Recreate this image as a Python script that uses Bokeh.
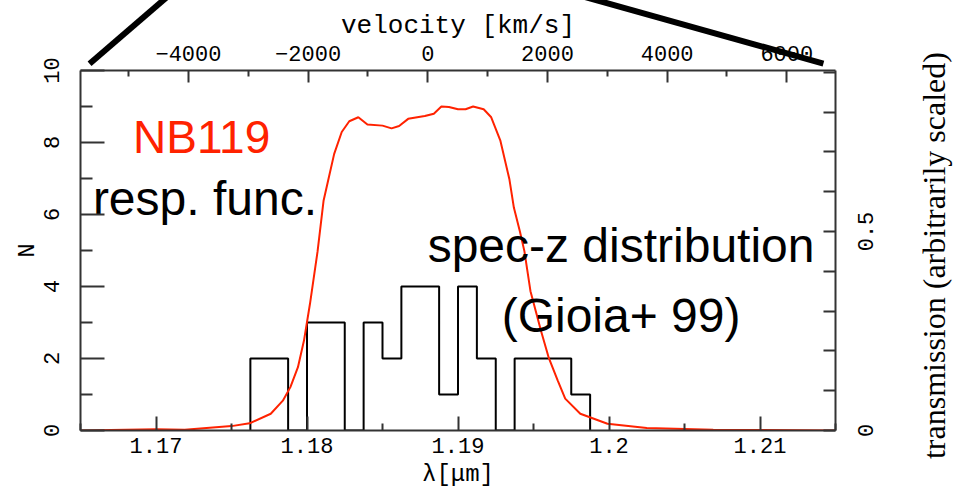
import math
from bokeh.plotting import figure
from bokeh.models import Range1d, LinearAxis, FixedTicker
from bokeh.core.properties import value
from bokeh.embed import file_html
from bokeh.resources import INLINE

# ---- data ----
# spec-z histogram (Gioia+ 99): bin edges in micron and counts per bin
bin_edges = [1.17625, 1.1775, 1.17875, 1.18, 1.18125, 1.1825, 1.18375, 1.185,
             1.18625, 1.1875, 1.18875, 1.19, 1.19125, 1.1925, 1.19375, 1.195,
             1.19625, 1.1975, 1.19875]
counts = [2, 2, 0, 3, 3, 0, 3, 2, 4, 4, 1, 4, 2, 0, 2, 2, 2, 1]

# NB119 response function (arbitrarily scaled transmission)
filter_wave = [1.165, 1.170, 1.1719, 1.1750, 1.1762, 1.1776, 1.1784, 1.1789,
               1.1794, 1.1798, 1.1802, 1.1807, 1.1811, 1.1814, 1.1818, 1.1823,
               1.1828, 1.1834, 1.1840, 1.1850, 1.1856, 1.1861, 1.1867, 1.1873,
               1.1878, 1.1884, 1.1889, 1.1894, 1.1900, 1.1905, 1.1910, 1.1917,
               1.1922, 1.1928, 1.1934, 1.1937, 1.1941, 1.1944, 1.1948, 1.1955,
               1.1960, 1.1966, 1.1971, 1.1981, 1.1999, 1.2025, 1.2069, 1.215]
filter_trans = [0.0, 0.003, 0.002, 0.011, 0.018, 0.042, 0.075, 0.109,
                0.159, 0.226, 0.319, 0.45, 0.578, 0.628, 0.695, 0.75,
                0.777, 0.787, 0.769, 0.766, 0.759, 0.765, 0.783, 0.787,
                0.79, 0.796, 0.814, 0.813, 0.807, 0.807, 0.814, 0.807,
                0.787, 0.729, 0.632, 0.56, 0.50, 0.45, 0.35, 0.25,
                0.184, 0.126, 0.08, 0.042, 0.017, 0.006, 0.002, 0.0]

# axes
lambda_range = [1.165, 1.215]
lambda_ticks = [1.17, 1.18, 1.19, 1.20, 1.21]
lambda_labels = ["1.17", "1.18", "1.19", "1.2", "1.21"]
lambda_minor = [1.165, 1.175, 1.185, 1.195, 1.205, 1.215]
n_range = [0, 10]
n_ticks = [0, 2, 4, 6, 8, 10]
n_minor = [1, 3, 5, 7, 9]
lambda0 = 1.188          # velocity zero point (micron)
c_kms = 299792.458
vel_ticks = [-4000, -2000, 0, 2000, 4000, 6000]
vel_labels = ["\u22124000", "\u22122000", "0", "2000", "4000", "6000"]
vel_minor = [-5000, -3000, -1000, 1000, 3000, 5000]
trans_range = [0, 0.9045]
trans_ticks = [0, 0.5]
trans_labels = ["0", "0.5"]
trans_minor = [0.1, 0.2, 0.3, 0.4, 0.6, 0.7, 0.8, 0.9]
trans_title = "transmission (arbitrarily scaled)"

# zoom-guide lines (from an upper panel), in data units
guide_x_start = [1.1656, 1.2142]
guide_y_start = [10.19, 10.19]
guide_x_end = [1.1720, 1.1945]
guide_y_end = [12.5, 12.5]

RED = "#ff2200"
AXC = "#333333"
TICK_FONT = "Liberation Mono"

p = figure(width=962, height=490, output_backend="svg", toolbar_location=None,
           x_range=Range1d(*lambda_range), y_range=Range1d(*n_range),
           x_axis_location=None, y_axis_location=None,
           min_border_left=80, min_border_right=127,
           min_border_top=70, min_border_bottom=60)
p.outline_line_color = None
p.xgrid.grid_line_color = None
p.ygrid.grid_line_color = None
p.background_fill_color = "white"
p.border_fill_color = "white"

v_lo = c_kms * (lambda_range[0] - lambda0) / lambda0
v_hi = c_kms * (lambda_range[1] - lambda0) / lambda0
p.extra_x_ranges = {"vel": Range1d(v_lo, v_hi)}
p.extra_y_ranges = {"trans": Range1d(*trans_range)}


def style(ax, tin, tmin):
    ax.axis_line_color = AXC
    ax.axis_line_width = 2
    ax.major_tick_line_color = AXC
    ax.minor_tick_line_color = AXC
    ax.major_tick_line_width = 2
    ax.minor_tick_line_width = 2
    ax.major_tick_in = tin
    ax.major_tick_out = 0
    ax.minor_tick_in = tmin
    ax.minor_tick_out = 0
    ax.major_label_text_font = TICK_FONT
    ax.major_label_text_font_size = "22px"
    ax.major_label_text_color = "black"
    ax.axis_label_text_font = TICK_FONT
    ax.axis_label_text_font_style = "normal"
    ax.axis_label_text_color = "black"


bottom = LinearAxis(ticker=FixedTicker(ticks=lambda_ticks, minor_ticks=lambda_minor),
                    major_label_overrides=dict(zip(lambda_ticks, lambda_labels)),
                    axis_label="\u03bb[\u03bcm]")
style(bottom, 14, 7)
bottom.major_label_standoff = 7
bottom.axis_label_standoff = 5
bottom.axis_label_text_font_size = "24px"
p.add_layout(bottom, "below")

top = LinearAxis(x_range_name="vel",
                 ticker=FixedTicker(ticks=vel_ticks, minor_ticks=vel_minor),
                 major_label_overrides=dict(zip(vel_ticks, vel_labels)),
                 axis_label="velocity [km/s]")
style(top, 12, 6)
top.major_label_standoff = 10
top.axis_label_standoff = 2
top.axis_label_text_font_size = "26px"
p.add_layout(top, "above")

left = LinearAxis(ticker=FixedTicker(ticks=n_ticks, minor_ticks=n_minor),
                  axis_label="N")
style(left, 24, 12)
left.major_label_orientation = "vertical"
left.major_label_standoff = 22
left.axis_label_standoff = 0
left.axis_label_text_font_size = "24px"
p.add_layout(left, "left")

# right axis: ticks from the axis; its upward-reading texts drawn as text glyphs
right = LinearAxis(y_range_name="trans",
                   ticker=FixedTicker(ticks=trans_ticks, minor_ticks=trans_minor),
                   major_label_overrides={t: "" for t in trans_ticks})
style(right, 12, 12)
p.add_layout(right, "right")

tick_lab_x = 1.2170   # just right of the right axis
p.text(x=[tick_lab_x] * len(trans_ticks), y=trans_ticks, text=trans_labels,
       y_range_name="trans", angle=math.pi / 2, text_align="center",
       text_baseline="middle", text_font=value(TICK_FONT), text_font_size="22px",
       text_color="black", level="overlay")
p.text(x=[1.2215], y=[4.86], text=[trans_title], angle=math.pi / 2,
       text_align="center", text_baseline="middle",
       text_font=value("Liberation Serif"), text_font_size="32px",
       text_color="black", level="overlay")

# histogram outline
step_x = [bin_edges[0]] + bin_edges
step_y = [0] + counts + [0]
p.step(x=step_x, y=step_y, mode="after", line_color="black", line_width=2)

# filter response
p.line(filter_wave, filter_trans, y_range_name="trans", line_color=RED, line_width=2)

# annotations
p.text(x=[1.17302], y=[8.14], text=["NB119"], text_font=value("Liberation Sans"),
       text_font_size="46px", text_color=RED, text_align="center",
       text_baseline="alphabetic")
p.text(x=[1.16582], y=[6.44], text=["resp. func."], text_font=value("Liberation Sans"),
       text_font_size="48px", text_color="black", text_align="left",
       text_baseline="alphabetic")
p.text(x=[1.2008, 1.2008], y=[5.14, 3.19],
       text=["spec-z distribution", "(Gioia+ 99)"],
       text_font=value("Liberation Sans"), text_font_size="48px",
       text_color="black", text_align="center", text_baseline="alphabetic")

# zoom-guide lines (overlay level so they run past the frame)
for xs, ys, xe, ye in zip(guide_x_start, guide_y_start, guide_x_end, guide_y_end):
    p.line(x=[xs, xe], y=[ys, ye], line_color="black", line_width=6, level="overlay")

open("out.html", "w").write(file_html(p, INLINE))
